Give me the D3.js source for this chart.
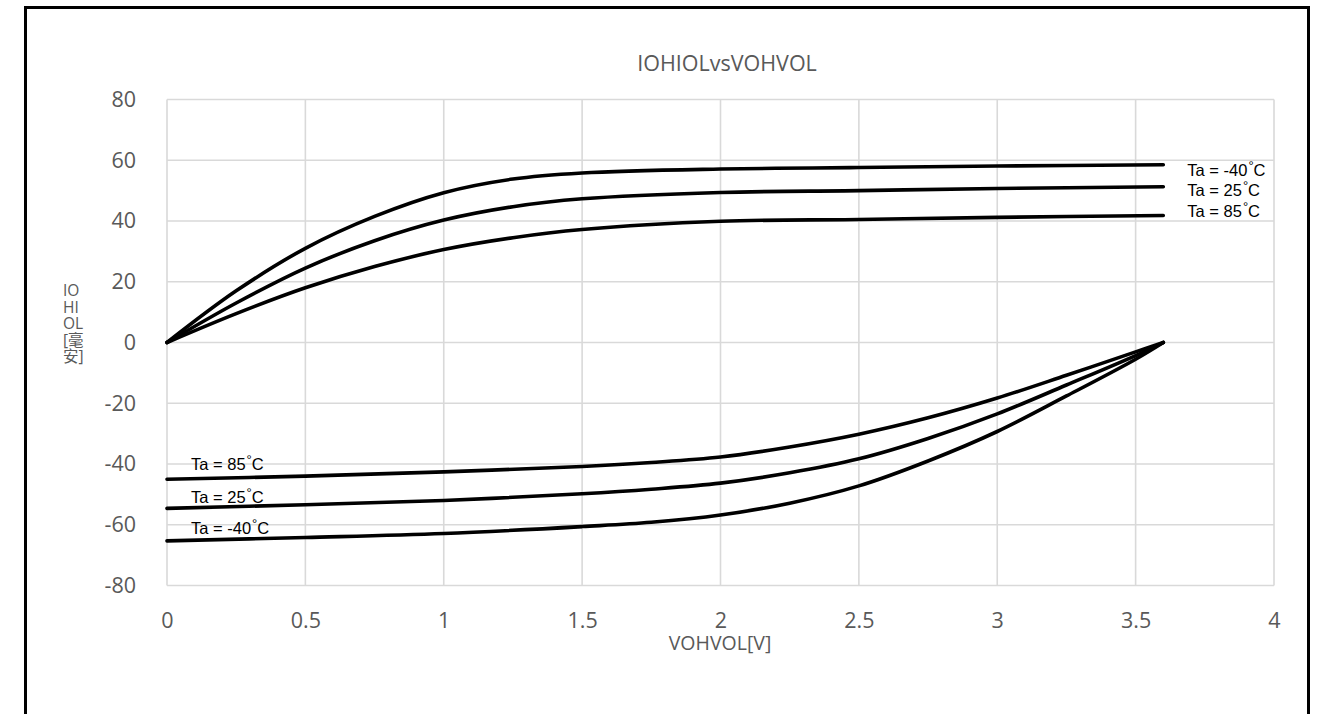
<!DOCTYPE html>
<html>
<head>
<meta charset="utf-8">
<script src="https://cdn.jsdelivr.net/npm/d3@7"></script>
<style>
  html, body { margin: 0; padding: 0; background: #fff; }
  svg { display: block; }
</style>
</head>
<body>
<svg id="chart" width="1318" height="714"></svg>
<script>
// Output current (mA) versus output voltage (V) at three ambient temperatures.
const voltsHigh = [0, 0.25, 0.5, 0.75, 1, 1.25, 1.5, 2, 2.5, 3, 3.6];
const sourceM40 = [0, 17, 31, 41.5, 49.3, 53.8, 55.8, 57.1, 57.6, 58.1, 58.5];
const source25  = [0, 13, 24.5, 33.5, 40.3, 44.7, 47.3, 49.4, 50.0, 50.7, 51.3];
const source85  = [0, 9.5, 18, 25, 30.6, 34.5, 37.2, 39.9, 40.5, 41.2, 41.8];

const voltsLow = [0, 0.5, 1, 1.5, 1.75, 2, 2.25, 2.5, 2.75, 3, 3.25, 3.5, 3.6];
const sinkM40 = [-65.3, -64.2, -62.9, -60.6, -59.2, -56.8, -52.9, -47.2, -39, -29.3, -17.6, -5.5, 0];
const sink25  = [-54.6, -53.4, -52, -49.8, -48.3, -46.3, -42.9, -38.3, -31.6, -23.5, -14, -4.3, 0];
const sink85  = [-45, -44, -42.6, -40.8, -39.5, -37.7, -34.4, -30.2, -24.8, -18.3, -10.8, -3.1, 0];

const xTicks = [0, 0.5, 1, 1.5, 2, 2.5, 3, 3.5, 4];
const yTicks = [-80, -60, -40, -20, 0, 20, 40, 60, 80];

const titleText = "IOHIOLvsVOHVOL";
const xTitle = "VOHVOL[V]";
const yTitleLines = ["IO", "HI", "OL", "[毫", "安]"];

// label nudges keep the three right-hand labels clear of each other
const series = [
  { x: voltsHigh, y: sourceM40, label: "Ta = -40", side: "right", nudge: 11.5 },
  { x: voltsHigh, y: source25,  label: "Ta = 25",  side: "right", nudge: 9.5 },
  { x: voltsHigh, y: source85,  label: "Ta = 85",  side: "right", nudge: 1 },
  { x: voltsLow,  y: sink85,    label: "Ta = 85",  side: "left",  nudge: -9 },
  { x: voltsLow,  y: sink25,    label: "Ta = 25",  side: "left",  nudge: -5 },
  { x: voltsLow,  y: sinkM40,   label: "Ta = -40", side: "left",  nudge: -7 }
];

const svg = d3.select("#chart");
const plot = { left: 167, right: 1274, top: 99.5, bottom: 585.5 };

const x = d3.scaleLinear().domain([0, 4]).range([plot.left, plot.right]);
const y = d3.scaleLinear().domain([-80, 80]).range([plot.bottom, plot.top]);

// outer frame
svg.append("rect")
  .attr("x", 25.5).attr("y", 7.5)
  .attr("width", 1283).attr("height", 730)
  .attr("fill", "none").attr("stroke", "#000").attr("stroke-width", 3);

// gridlines
const grid = svg.append("g").attr("stroke", "#d9d9d9").attr("stroke-width", 1.6);
grid.selectAll(".gx").data(xTicks).enter().append("line")
  .attr("x1", d => x(d)).attr("x2", d => x(d))
  .attr("y1", plot.top).attr("y2", plot.bottom);
grid.selectAll(".gy").data(yTicks).enter().append("line")
  .attr("x1", plot.left).attr("x2", plot.right)
  .attr("y1", d => y(d)).attr("y2", d => y(d));

// axes (labels only, no domain lines)
const tickFont = "'Open Sans', 'Noto Sans', sans-serif";
const xAxis = svg.append("g")
  .attr("transform", `translate(0,${plot.bottom})`)
  .call(d3.axisBottom(x).tickValues(xTicks).tickSize(0).tickPadding(27).tickFormat(d => String(d)));
const yAxis = svg.append("g")
  .attr("transform", `translate(${plot.left},0)`)
  .call(d3.axisLeft(y).tickValues(yTicks).tickSize(0).tickPadding(31).tickFormat(d => String(d)));
[xAxis, yAxis].forEach(g => {
  g.select(".domain").remove();
  g.selectAll("text")
    .attr("fill", "#595959")
    .style("font-family", tickFont)
    .style("font-size", "21.5px");
});

// titles
svg.append("text")
  .attr("x", 727).attr("y", 71)
  .attr("text-anchor", "middle")
  .attr("fill", "#595959")
  .style("font-family", tickFont).style("font-size", "21.5px")
  .text(titleText);

svg.append("text")
  .attr("x", 720).attr("y", 650)
  .attr("text-anchor", "middle")
  .attr("fill", "#595959")
  .style("font-family", tickFont).style("font-size", "19.5px")
  .text(xTitle);

const yt = svg.append("text")
  .attr("fill", "#595959")
  .style("font-family", "'Open Sans', 'Noto Sans CJK SC', sans-serif")
  .style("font-size", "15.5px");
yTitleLines.forEach((t, i) => {
  yt.append("tspan").attr("x", 63).attr("y", 296 + i * 16.5).text(t);
});

// curves
const line = d3.line()
  .x(d => x(d[0]))
  .y(d => y(d[1]))
  .curve(d3.curveCatmullRom.alpha(0.5));

svg.append("g").selectAll("path").data(series).enter().append("path")
  .attr("d", s => line(s.x.map((v, i) => [v, s.y[i]])))
  .attr("fill", "none")
  .attr("stroke", "#000")
  .attr("stroke-width", 3.6)
  .attr("stroke-linecap", "round")
  .attr("stroke-linejoin", "round");

// temperature labels
const labelFont = "'Liberation Sans', Arial, sans-serif";
const labels = svg.append("g")
  .style("font-family", labelFont)
  .style("font-size", "16.5px")
  .attr("fill", "#000");

series.forEach(s => {
  const n = s.x.length;
  const endX = s.side === "right" ? s.x[n - 1] : s.x[0];
  const endY = s.side === "right" ? s.y[n - 1] : s.y[0];
  const t = labels.append("text")
    .attr("x", x(endX) + 24)
    .attr("y", y(endY) + s.nudge);
  t.append("tspan").text(s.label);
  t.append("tspan").attr("dy", -6).attr("dx", 1).style("font-size", "13px").text("°");
  t.append("tspan").attr("dy", 6).text("C");
});
</script>
</body>
</html>
